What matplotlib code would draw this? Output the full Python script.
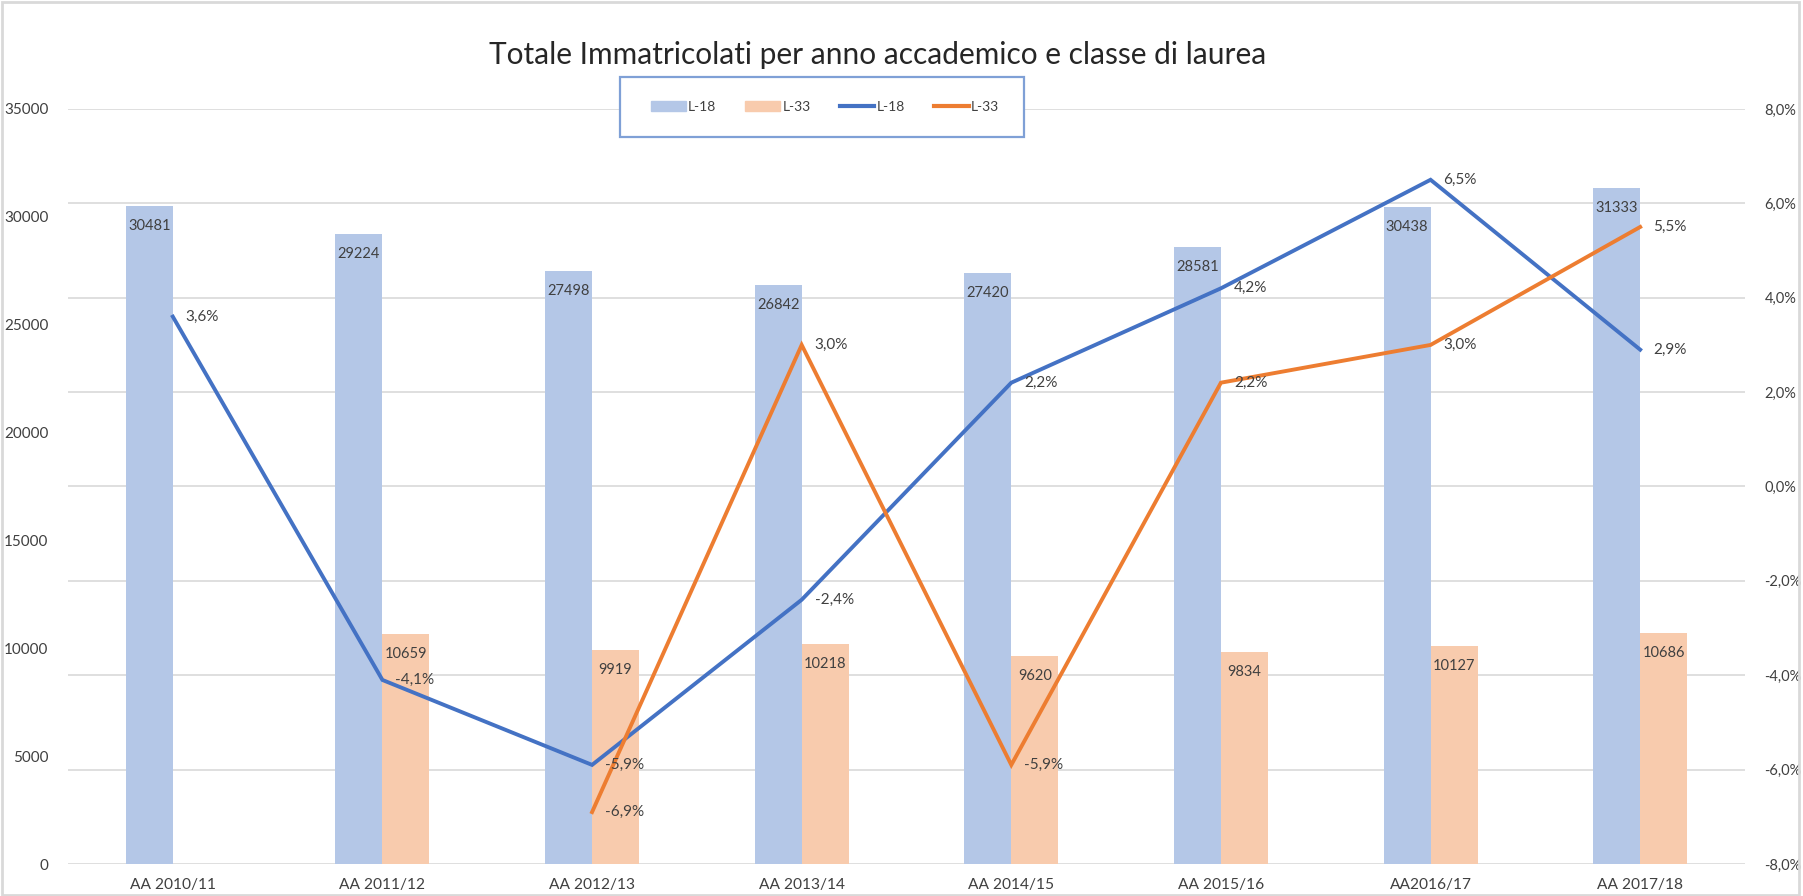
import matplotlib
matplotlib.use("Agg")
import matplotlib.pyplot as plt
import numpy as np
from matplotlib.patches import Patch, Rectangle
from matplotlib.lines import Line2D
from matplotlib.transforms import blended_transform_factory
from matplotlib import font_manager

plt.rcParams['font.family'] = ['Lato', 'DejaVu Sans']
_names = {f.name for f in font_manager.fontManager.ttflist}
if 'Liberation Sans Narrow' in _names:
    NARROW, XSIZE = ['Liberation Sans Narrow', 'Lato', 'DejaVu Sans'], 12.5
elif 'DejaVu Sans Condensed' in _names:
    NARROW, XSIZE = ['DejaVu Sans Condensed', 'DejaVu Sans'], 11
else:
    NARROW, XSIZE = ['Lato', 'DejaVu Sans'], 11.2

categories = ["AA 2010/11", "AA 2011/12", "AA 2012/13", "AA 2013/14",
              "AA 2014/15", "AA 2015/16", "AA2016/17", "AA 2017/18"]
l18_counts = [30481, 29224, 27498, 26842, 27420, 28581, 30438, 31333]
l33_counts = [np.nan, 10659, 9919, 10218, 9620, 9834, 10127, 10686]
l18_pct = [3.6, -4.1, -5.9, -2.4, 2.2, 4.2, 6.5, 2.9]
l33_pct = [np.nan, np.nan, -6.9, 3.0, -5.9, 2.2, 3.0, 5.5]
left_ticks = [0, 5000, 10000, 15000, 20000, 25000, 30000, 35000]
right_ticks = [-8, -6, -4, -2, 0, 2, 4, 6, 8]
title = "Totale Immatricolati per anno accademico e classe di laurea"

C_BAR18 = "#B4C7E7"
C_BAR33 = "#F8CBAD"
C_LN18 = "#4472C4"
C_LN33 = "#ED7D31"
TXT = "#404040"
GRID = "#D9D9D9"

W, H = 1803, 896
fig = plt.figure(figsize=(W / 100, H / 100), dpi=100)
fig.patch.set_facecolor("white")

L, R, T, B = 68, 1745, 109, 864
ax = fig.add_axes([L / W, 1 - B / H, (R - L) / W, (B - T) / H])
ax2 = ax.twinx()

x = np.arange(len(categories))
bw = 0.224
ax.set_ylim(0, 35000)
ax.set_xlim(-0.5, len(categories) - 0.5)
ax2.set_ylim(-8, 8)

# gridlines belong to the secondary (percent) axis, drawn beneath the bars
gtrans = blended_transform_factory(ax.transAxes, ax2.transData)
for t in right_ticks:
    ax.add_line(Line2D([0, 1], [t, t], transform=gtrans, color=GRID, lw=1.2, zorder=1))

ax.bar(x - bw / 2, l18_counts, bw, color=C_BAR18, zorder=2)
ax.bar(x + bw / 2, l33_counts, bw, color=C_BAR33, zorder=2)
ax.set_yticks(left_ticks)
ax.set_yticklabels([str(v) for v in left_ticks])
ax.set_xticks(x)
ax.set_xticklabels(categories, family=NARROW)

for xi, v in zip(x, l18_counts):
    if not np.isnan(v):
        ax.annotate(f"{int(v)}", (xi - bw / 2, v), xytext=(0, -13),
                    textcoords="offset pixels", ha="center", va="top",
                    fontsize=10.5, color=TXT, zorder=3)
for xi, v in zip(x, l33_counts):
    if not np.isnan(v):
        ax.annotate(f"{int(v)}", (xi + bw / 2, v), xytext=(0, -13),
                    textcoords="offset pixels", ha="center", va="top",
                    fontsize=10.5, color=TXT, zorder=3)

ax2.plot(x, l18_pct, color=C_LN18, lw=2.8, zorder=4, solid_joinstyle="miter")
ax2.plot(x, l33_pct, color=C_LN33, lw=2.8, zorder=4, solid_joinstyle="miter")
ax2.set_yticks(right_ticks)
ax2.set_yticklabels([f"{v:.1f}%".replace(".", ",") for v in right_ticks])

for series in (l18_pct, l33_pct):
    for xi, v in zip(x, series):
        if not np.isnan(v):
            ax2.annotate(f"{v:.1f}%".replace(".", ","), (xi, v), xytext=(13, 0),
                         textcoords="offset pixels", ha="left", va="center",
                         fontsize=11, color=TXT, zorder=5)

ax.set_zorder(1)
ax2.set_zorder(2)
ax2.patch.set_visible(False)

for a in (ax, ax2):
    for s in a.spines.values():
        s.set_visible(False)
    a.tick_params(length=0)
ax.tick_params(axis="y", labelsize=11, labelcolor=TXT, pad=14)
ax.tick_params(axis="x", labelsize=XSIZE, labelcolor=TXT, pad=10)
ax2.tick_params(axis="y", labelsize=10.5, labelcolor=TXT, pad=14)

fig.text(878 / W, 1 - 55 / H, title, ha="center", va="center",
         fontsize=21.5, color="#262626")

# legend box
fig.patches.append(Rectangle((620 / W, 1 - 137 / H), 404 / W, 60 / H,
                             transform=fig.transFigure, facecolor="white",
                             edgecolor="#7FA0D6", lw=1.6, zorder=3))
handles = [Patch(color=C_BAR18), Patch(color=C_BAR33),
           Line2D([], [], color=C_LN18, lw=3), Line2D([], [], color=C_LN33, lw=3)]
fig.legend(handles, ["L-18", "L-33", "L-18", "L-33"], loc="center",
           bbox_to_anchor=(825 / W, 1 - 107 / H), ncol=4, frameon=False,
           prop={'family': NARROW, 'size': 10},
           handlelength=2.5, handletextpad=0.15,
           columnspacing=2.1, labelcolor=TXT)

# figure border
fig.patches.append(Rectangle((0.001, 0.001), 0.997, 0.997, transform=fig.transFigure,
                             fill=False, edgecolor="#D9D9D9", lw=2, zorder=10))

fig.savefig("out.png", dpi=100)
